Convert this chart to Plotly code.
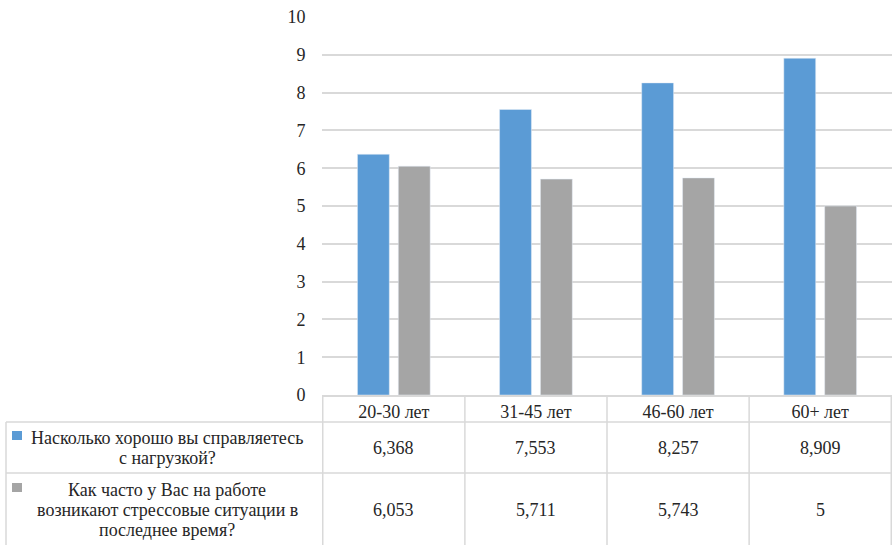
import plotly.graph_objects as go

# Age groups and mean scores for the two survey questions
categories = ["20-30 лет", "31-45 лет", "46-60 лет", "60+ лет"]
load_scores = [6.368, 7.553, 8.257, 8.909]
stress_scores = [6.053, 5.711, 5.743, 5]
series_lines = [
    ["Насколько хорошо вы справляетесь", "с нагрузкой?"],
    ["Как часто у Вас на работе", "возникают стрессовые ситуации в", "последнее время?"],
]
series_values = [load_scores, stress_scores]
colors = ["#5B9BD5", "#A5A5A5"]
y_ticks = list(range(0, 11))

W, H = 892, 545
ML, MR, MT, MB = 322, 0, 17, 150
PW, PH = W - ML - MR, H - MT - MB
FONT = "Liberation Serif"
GRID = "#d9d9d9"
TXT = "#262626"


def px_x(px):
    return (px - ML) / PW


def px_y(py):
    return (H - MB - py) / PH


def txt_font():
    return dict(size=18, color=TXT, family=FONT)


fig = go.Figure()
fig.add_trace(go.Bar(x=categories, y=load_scores, marker=dict(color=colors[0])))
fig.add_trace(go.Bar(x=categories, y=stress_scores, marker=dict(color=colors[1])))

# data rows: series names (one annotation per line) and the values
row_centers = [448, 510]
line_pitch = 20
for r, (lines, vals) in enumerate(zip(series_lines, series_values)):
    first = row_centers[r] - line_pitch * (len(lines) - 1) / 2
    for k, ln in enumerate(lines):
        fig.add_annotation(x=px_x(167), y=px_y(first + k * line_pitch),
                           xref="paper", yref="paper", text=ln, showarrow=False,
                           xanchor="center", yanchor="middle", font=txt_font())
    for i, v in enumerate(vals):
        fig.add_annotation(x=i, y=px_y(row_centers[r]), xref="x", yref="paper",
                           text=f"{v:g}".replace(".", ","), showarrow=False,
                           xanchor="center", yanchor="middle", font=txt_font())

fig.update_layout(width=W, height=H, margin=dict(l=ML, r=MR, t=MT, b=MB, pad=0),
                  plot_bgcolor="white", showlegend=False, font=txt_font(),
                  barmode="group", bargap=0.425, bargroupgap=0.22)
fig.update_yaxes(range=[0, 10], tickvals=y_ticks, gridcolor=GRID, gridwidth=1.5,
                 zeroline=False, ticks="outside", ticklen=12,
                 tickcolor="rgba(0,0,0,0)", tickfont=txt_font())
# category names form the header row of the table
fig.update_xaxes(showline=True, linecolor=GRID, linewidth=1.5, ticks="",
                 tickfont=txt_font())

# table rules
row_tops = [422, 473]
row_bottom = 545
for yy in row_tops:
    fig.add_shape(type="line", xref="paper", yref="paper",
                  x0=px_x(6), x1=1, y0=px_y(yy), y1=px_y(yy),
                  line=dict(color=GRID, width=1.5))
fig.add_shape(type="line", xref="paper", yref="paper",
              x0=px_x(6), x1=px_x(6), y0=px_y(row_tops[0]), y1=px_y(row_bottom),
              line=dict(color=GRID, width=1.5))
for i in range(len(categories) + 1):
    fig.add_shape(type="line", xref="x", yref="paper",
                  x0=i - 0.5, x1=i - 0.5, y0=0, y1=px_y(row_bottom),
                  line=dict(color=GRID, width=1.5))
# legend keys in the series-name column
for r, (lines, col) in enumerate(zip(series_lines, colors)):
    sq = row_centers[r] - line_pitch * (len(lines) - 1) / 2 - 2
    fig.add_shape(type="rect", xref="paper", yref="paper",
                  x0=px_x(12), x1=px_x(22), y0=px_y(sq - 5), y1=px_y(sq + 4),
                  fillcolor=col, line=dict(width=0))

fig.write_html("out.html")
